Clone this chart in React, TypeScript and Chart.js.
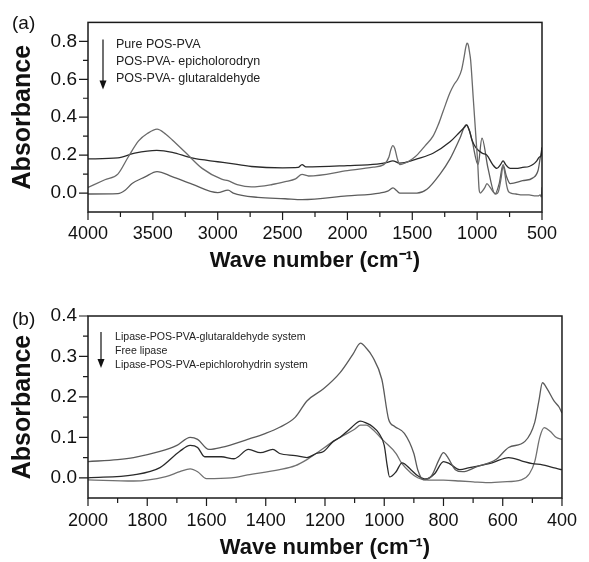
import React, { useEffect, useRef } from "react";
import { Chart, registerables } from "chart.js";

Chart.register(...registerables);

const FONT = "'Liberation Sans', Arial, Helvetica, sans-serif";

// ---------- Panel (a) ----------
const xTicksA = [4000, 3500, 3000, 2500, 2000, 1500, 1000, 500];
const xMinorA = [3750, 3250, 2750, 2250, 1750, 1250, 750];
const yTicksA = [0.0, 0.2, 0.4, 0.6, 0.8];
const yMinorA = [0.1, 0.3, 0.5, 0.7];
const legendA = ["Pure POS-PVA", "POS-PVA- epicholorodryn", "POS-PVA- glutaraldehyde"];

const wnA1 = [4000, 3870, 3770, 3690, 3610, 3540, 3468, 3400, 3350, 3250, 3120, 2970, 2920, 2850, 2740, 2580, 2480, 2400, 2350, 2300, 2000, 1800, 1720, 1680, 1665, 1650, 1635, 1615, 1595, 1550, 1500, 1464, 1400, 1340, 1300, 1263, 1209, 1180, 1150, 1120, 1100, 1090, 1078, 1068, 1058, 1050, 1030, 1010, 995, 985, 975, 960, 940, 925, 900, 875, 855, 835, 815, 805, 798, 790, 775, 760, 740, 700, 650, 600, 560, 530, 515, 505, 500];
const absA1 = [0.03, 0.07, 0.10, 0.19, 0.275, 0.315, 0.337, 0.31, 0.28, 0.215, 0.13, 0.073, 0.065, 0.045, 0.032, 0.045, 0.06, 0.075, 0.098, 0.09, 0.118, 0.137, 0.15, 0.19, 0.23, 0.25, 0.235, 0.18, 0.15, 0.16, 0.18, 0.2, 0.25, 0.30, 0.36, 0.43, 0.53, 0.57, 0.60, 0.65, 0.72, 0.76, 0.79, 0.78, 0.74, 0.70, 0.50, 0.30, 0.15, 0.02, 0.0, 0.01, 0.03, 0.05, 0.03, 0.005, -0.005, 0.01, 0.08, 0.13, 0.14, 0.12, 0.05, 0.01, 0.0, -0.005, -0.01, -0.01, -0.015, -0.015, -0.01, -0.02, 0.03];

const wnA2 = [4000, 3770, 3640, 3470, 3350, 3200, 3000, 2920, 2740, 2500, 2380, 2350, 2320, 2000, 1772, 1700, 1650, 1600, 1560, 1464, 1340, 1209, 1150, 1094, 1080, 1060, 1040, 1010, 960, 925, 880, 848, 820, 800, 780, 745, 700, 650, 600, 570, 540, 520, 505, 500];
const absA2 = [0.18, 0.185, 0.21, 0.225, 0.215, 0.185, 0.165, 0.158, 0.14, 0.133, 0.135, 0.15, 0.138, 0.145, 0.153, 0.16, 0.17, 0.158, 0.16, 0.18, 0.21, 0.27, 0.31, 0.35, 0.36, 0.33, 0.28, 0.24, 0.21, 0.20, 0.15, 0.13, 0.15, 0.17, 0.15, 0.13, 0.13, 0.135, 0.14, 0.15, 0.17, 0.19, 0.20, 0.24];

const wnA3 = [4000, 3769, 3714, 3660, 3560, 3468, 3352, 3198, 3000, 2920, 2880, 2690, 2481, 2350, 2003, 1750, 1690, 1649, 1620, 1595, 1495, 1464, 1387, 1286, 1209, 1132, 1086, 1060, 1040, 993, 963, 916, 862, 830, 800, 775, 745, 650, 570, 530, 515, 500];
const absA3 = [-0.005, -0.003, 0.015, 0.05, 0.085, 0.113, 0.087, 0.047, 0.002, 0.015, 0.0, -0.023, -0.03, -0.035, -0.015, 0.0, 0.01, 0.027, 0.012, 0.0, 0.0, 0.0, 0.02, 0.10, 0.18, 0.29, 0.36, 0.33, 0.28, 0.15, 0.29, 0.13, -0.005, 0.05, 0.15, 0.09, 0.05, 0.065, 0.08, 0.12, 0.18, 0.24];

// ---------- Panel (b) ----------
const xTicksB = [2000, 1800, 1600, 1400, 1200, 1000, 800, 600, 400];
const xMinorB = [1900, 1700, 1500, 1300, 1100, 900, 700, 500];
const yTicksB = [0.0, 0.1, 0.2, 0.3, 0.4];
const yMinorB = [0.05, 0.15, 0.25, 0.35];
const legendB = ["Lipase-POS-PVA-glutaraldehyde system", "Free lipase", "Lipase-POS-PVA-epichlorohydrin system"];

const wnB1 = [2000, 1900, 1846, 1757, 1700, 1655, 1630, 1592, 1550, 1461, 1400, 1353, 1300, 1261, 1205, 1149, 1106, 1080, 1060, 1040, 1008, 985, 965, 932, 900, 887, 867, 840, 815, 800, 785, 760, 735, 689, 623, 580, 525, 492, 478, 466, 450, 427, 410, 400];
const absB1 = [0.04, 0.045, 0.05, 0.065, 0.08, 0.10, 0.095, 0.07, 0.075, 0.095, 0.11, 0.125, 0.15, 0.19, 0.22, 0.26, 0.305, 0.333, 0.32, 0.30, 0.243, 0.144, 0.127, 0.11, 0.06, 0.02, -0.005, 0.005, 0.045, 0.062, 0.05, 0.02, 0.015, 0.027, 0.045, 0.075, 0.09, 0.137, 0.19, 0.235, 0.22, 0.19, 0.175, 0.16];

const wnB2 = [2000, 1846, 1757, 1691, 1655, 1630, 1606, 1550, 1507, 1458, 1418, 1376, 1353, 1300, 1261, 1230, 1205, 1172, 1149, 1117, 1080, 1060, 1040, 1018, 1000, 990, 982, 960, 940, 910, 887, 860, 830, 800, 780, 745, 712, 636, 580, 537, 500, 466, 430, 400];
const absB2 = [0.0, 0.007, 0.025, 0.065, 0.08, 0.075, 0.052, 0.052, 0.047, 0.07, 0.062, 0.07, 0.06, 0.055, 0.05, 0.06, 0.065, 0.09, 0.10, 0.12, 0.14, 0.135, 0.127, 0.11, 0.08, 0.03, 0.002, 0.015, 0.037, 0.02, 0.005, -0.003, 0.01, 0.04, 0.035, 0.02, 0.025, 0.037, 0.05, 0.042, 0.035, 0.032, 0.025, 0.02];

const wnB3 = [2000, 1846, 1737, 1690, 1655, 1630, 1600, 1517, 1461, 1353, 1300, 1261, 1230, 1172, 1149, 1100, 1080, 1060, 1040, 1000, 960, 942, 910, 887, 860, 800, 745, 700, 657, 600, 537, 510, 492, 475, 460, 440, 420, 400];
const absB3 = [-0.005, -0.008, 0.003, 0.015, 0.022, 0.015, -0.002, 0.0, 0.007, 0.02, 0.03, 0.045, 0.06, 0.09, 0.10, 0.12, 0.13, 0.13, 0.12, 0.09, 0.06, 0.037, 0.012, 0.0, -0.005, -0.006, -0.008, -0.01, -0.012, -0.01, -0.005, 0.01, 0.04, 0.10, 0.124, 0.115, 0.10, 0.095];

type Series = { x: number[]; y: number[]; color: string };
type Panel = {
  label: string;
  top: number;
  width: number;
  height: number;
  padTop: number;
  padRight: number;
  xAxisHeight: number;
  xMin: number;
  xMax: number;
  yMin: number;
  yMax: number;
  xMajor: number[];
  xMinor: number[];
  yMajor: number[];
  yMinor: number[];
  series: Series[];
  legend: string[];
  legendFont: number;
  legendX: number;
  legendRow0: number;
  legendRowGap: number;
  arrowX: number;
  arrowTop: number;
  arrowBottom: number;
  labelY: number;
  titleBottomPad: number;
  xLabelPad: number;
};

const panels: Panel[] = [
  {
    label: "(a)",
    top: 0,
    width: 589,
    height: 280,
    padTop: 16,
    padRight: 47,
    xAxisHeight: 68,
    xMin: 500,
    xMax: 4000,
    yMin: -0.1,
    yMax: 0.9,
    xMajor: xTicksA,
    xMinor: xMinorA,
    yMajor: yTicksA,
    yMinor: yMinorA,
    series: [
      { x: wnA1, y: absA1, color: "#6a6a6a" },
      { x: wnA2, y: absA2, color: "#2a2a2a" },
      { x: wnA3, y: absA3, color: "#5c5c5c" },
    ],
    legend: legendA,
    legendFont: 12.5,
    legendX: 28,
    legendRow0: 22,
    legendRowGap: 17,
    arrowX: 15,
    arrowTop: 17,
    arrowBottom: 67,
    labelY: 24,
    titleBottomPad: 6,
    xLabelPad: 11,
  },
  {
    label: "(b)",
    top: 280,
    width: 589,
    height: 282,
    padTop: 36,
    padRight: 14,
    xAxisHeight: 64,
    xMin: 400,
    xMax: 2000,
    yMin: -0.05,
    yMax: 0.4,
    xMajor: xTicksB,
    xMinor: xMinorB,
    yMajor: yTicksB,
    yMinor: yMinorB,
    series: [
      { x: wnB1, y: absB1, color: "#5a5a5a" },
      { x: wnB2, y: absB2, color: "#2a2a2a" },
      { x: wnB3, y: absB3, color: "#707070" },
    ],
    legend: legendB,
    legendFont: 10.6,
    legendX: 27,
    legendRow0: 21,
    legendRowGap: 14,
    arrowX: 13,
    arrowTop: 16,
    arrowBottom: 52,
    labelY: 40,
    titleBottomPad: 1,
    xLabelPad: 12,
  },
];

const decor = {
  id: "decor",
  afterDraw(chart: any, _args: any, o: any) {
    const { ctx, chartArea: a, scales } = chart;
    const x = scales.x;
    const y = scales.y;
    ctx.save();
    ctx.strokeStyle = "#1a1a1a";
    ctx.lineWidth = 1.5;
    ctx.strokeRect(a.left, a.top, a.right - a.left, a.bottom - a.top);
    ctx.lineWidth = 1.2;
    ctx.beginPath();
    o.xMajor.forEach((v: number) => {
      const p = x.getPixelForValue(v);
      ctx.moveTo(p, a.bottom);
      ctx.lineTo(p, a.bottom + 8);
    });
    o.xMinor.forEach((v: number) => {
      const p = x.getPixelForValue(v);
      ctx.moveTo(p, a.bottom);
      ctx.lineTo(p, a.bottom + 5);
    });
    o.yMajor.forEach((v: number) => {
      const p = y.getPixelForValue(v);
      ctx.moveTo(a.left - 9, p);
      ctx.lineTo(a.left, p);
    });
    o.yMinor.forEach((v: number) => {
      const p = y.getPixelForValue(v);
      ctx.moveTo(a.left - 5, p);
      ctx.lineTo(a.left, p);
    });
    ctx.stroke();

    // arrow
    const ax = a.left + o.arrowX;
    ctx.strokeStyle = "#111";
    ctx.lineWidth = 1.2;
    ctx.beginPath();
    ctx.moveTo(ax, a.top + o.arrowTop);
    ctx.lineTo(ax, a.top + o.arrowBottom - 6);
    ctx.stroke();
    ctx.fillStyle = "#111";
    ctx.beginPath();
    ctx.moveTo(ax - 3.5, a.top + o.arrowBottom - 9);
    ctx.lineTo(ax + 3.5, a.top + o.arrowBottom - 9);
    ctx.lineTo(ax, a.top + o.arrowBottom);
    ctx.closePath();
    ctx.fill();

    // legend text
    ctx.fillStyle = "#222";
    ctx.font = `${o.legendFont}px ${FONT}`;
    ctx.textBaseline = "middle";
    ctx.textAlign = "left";
    o.legend.forEach((t: string, i: number) => {
      ctx.fillText(t, a.left + o.legendX, a.top + o.legendRow0 + i * o.legendRowGap);
    });

    // panel label
    ctx.fillStyle = "#111";
    ctx.font = `19px ${FONT}`;
    ctx.fillText(o.label, 12, o.labelY);
    ctx.restore();
  },
};

function buildConfig(p: Panel): any {
  return {
    type: "line",
    data: {
      datasets: p.series.map((s) => ({
        data: s.x.map((xv, i) => ({ x: xv, y: s.y[i] })),
        borderColor: s.color,
        borderWidth: 1.3,
        pointRadius: 0,
        cubicInterpolationMode: "monotone",
        fill: false,
      })),
    },
    options: {
      animation: false,
      responsive: false,
      devicePixelRatio: 1,
      layout: { padding: { top: p.padTop, right: p.padRight, left: 0, bottom: 0 } },
      plugins: {
        legend: { display: false },
        tooltip: { enabled: false },
        decor: {
          xMajor: p.xMajor,
          xMinor: p.xMinor,
          yMajor: p.yMajor,
          yMinor: p.yMinor,
          legend: p.legend,
          legendFont: p.legendFont,
          legendX: p.legendX,
          legendRow0: p.legendRow0,
          legendRowGap: p.legendRowGap,
          arrowX: p.arrowX,
          arrowTop: p.arrowTop,
          arrowBottom: p.arrowBottom,
          label: p.label,
          labelY: p.labelY,
        },
      },
      scales: {
        x: {
          type: "linear",
          reverse: true,
          min: p.xMin,
          max: p.xMax,
          grid: { display: false, drawTicks: false },
          border: { display: false },
          afterBuildTicks: (s: any) => {
            s.ticks = p.xMajor.map((v) => ({ value: v }));
          },
          afterFit: (s: any) => {
            s.height = p.xAxisHeight;
          },
          ticks: {
            autoSkip: false,
            maxRotation: 0,
            padding: p.xLabelPad,
            color: "#111",
            font: { family: FONT, size: 18 },
            callback: (v: any) => String(v),
          },
          title: {
            display: true,
            text: "Wave number (cm⁻¹)",
            color: "#111",
            font: { family: FONT, size: 22, weight: "bold" },
            padding: { top: 0, bottom: p.titleBottomPad },
          },
        },
        y: {
          type: "linear",
          min: p.yMin,
          max: p.yMax,
          grid: { display: false, drawTicks: false },
          border: { display: false },
          afterBuildTicks: (s: any) => {
            s.ticks = p.yMajor.map((v) => ({ value: v }));
          },
          afterFit: (s: any) => {
            s.width = 88;
          },
          ticks: {
            padding: 11,
            color: "#111",
            font: { family: FONT, size: 19 },
            callback: (v: any) => Number(v).toFixed(1),
          },
          title: {
            display: true,
            text: "Absorbance",
            color: "#111",
            font: { family: FONT, size: 25, weight: "bold" },
            padding: { top: 8, bottom: 0 },
          },
        },
      },
    },
    plugins: [decor],
  };
}

function ChartPanel({ panel }: { panel: Panel }) {
  const ref = useRef<HTMLCanvasElement>(null);
  useEffect(() => {
    const chart = new Chart(ref.current as HTMLCanvasElement, buildConfig(panel));
    return () => chart.destroy();
  }, [panel]);
  return (
    <div style={{ position: "absolute", left: 0, top: panel.top, width: panel.width, height: panel.height }}>
      <canvas
        ref={ref}
        width={panel.width}
        height={panel.height}
        style={{ display: "block", width: panel.width, height: panel.height }}
      />
    </div>
  );
}

export default function App() {
  return (
    <div style={{ position: "absolute", left: 0, top: 0, width: 589, height: 562, background: "#fff" }}>
      {panels.map((p) => (
        <ChartPanel key={p.label} panel={p} />
      ))}
    </div>
  );
}
